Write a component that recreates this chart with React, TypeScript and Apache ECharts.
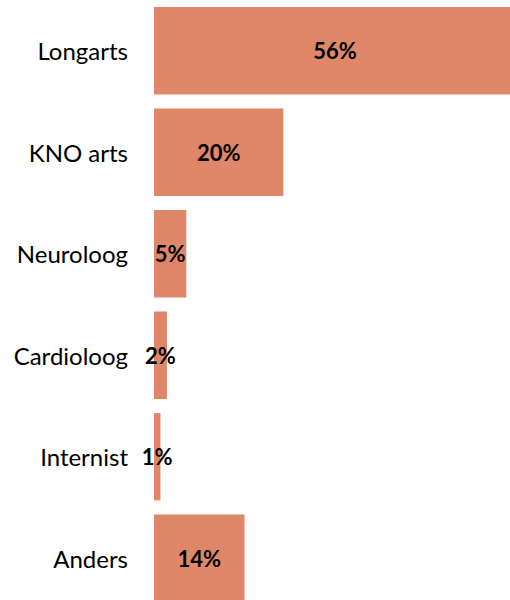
import React, { useEffect, useRef } from "react";
import * as echarts from "echarts";

const categories = ["Longarts", "KNO arts", "Neuroloog", "Cardioloog", "Internist", "Anders"];
const values = [56, 20, 5, 2, 1, 14];

export default function App() {
  const ref = useRef<HTMLDivElement>(null);
  useEffect(() => {
    if (!ref.current) return;
    const chart = echarts.init(ref.current, undefined, { renderer: "svg" });
    chart.setOption({
      animation: false,
      backgroundColor: "#ffffff",
      grid: {
        left: 154,
        top: 0,
        width: 388,
        height: 609,
        containLabel: false,
        outerBoundsMode: "none",
      },
      xAxis: {
        type: "value",
        min: 0,
        max: 60,
        show: false,
      },
      yAxis: {
        type: "category",
        data: categories,
        inverse: true,
        axisLine: { show: false },
        axisTick: { show: false },
        splitLine: { show: false },
        axisLabel: {
          color: "#000000",
          fontFamily: "Lato",
          fontSize: 24,
          margin: 26,
        },
      },
      series: [
        {
          type: "bar",
          data: values,
          barCategoryGap: "14%",
          itemStyle: { color: "#E0876A" },
          label: {
            show: true,
            position: "inside",
            formatter: "{c}%",
            color: "#000000",
            fontFamily: "Lato",
            fontWeight: "bold",
            fontSize: 22,
          },
        },
      ],
    });
    return () => chart.dispose();
  }, []);
  return (
    <div
      ref={ref}
      style={{ position: "absolute", left: 0, top: 0, width: 510, height: 600 }}
    />
  );
}
